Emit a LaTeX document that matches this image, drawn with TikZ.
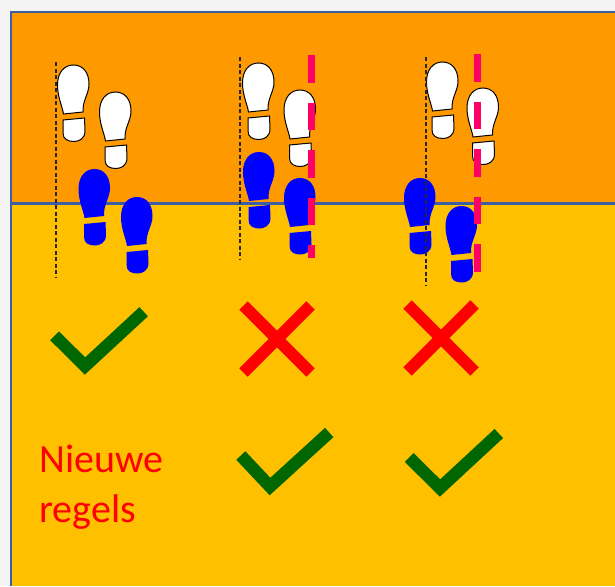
\documentclass[tikz,border=0pt]{standalone}
\usepackage{fontspec}
\setmainfont{Carlito}
\usepackage{tikz}
\usetikzlibrary{positioning}

\definecolor{frameblue}{HTML}{3C5FA3}
\definecolor{topband}{HTML}{FF9900}
\definecolor{lowband}{HTML}{FFC000}
\definecolor{okgreen}{HTML}{006600}
\definecolor{linepink}{HTML}{FF0066}
\definecolor{outside}{HTML}{F4F4F4}

\tikzset{
  print/.pic={
    % sole
    \path[pic actions] (-10,49) .. controls (-11,42) and (-16,32) .. (-16,20)
      .. controls (-16,7) and (-9,0) .. (0,0)
      .. controls (9,0) and (15.5,7) .. (15.5,19)
      .. controls (15.5,29) and (9,35) .. (9.5,47) -- cycle;
    % heel
    \path[pic actions] (-10.5,55) -- (11,53) -- (11.5,66)
      .. controls (11.5,74) and (5,76.5) .. (0.5,76.5)
      .. controls (-6,76.5) and (-10.5,74) .. (-10.5,68) -- cycle;
  },
  white print/.style={draw=black, fill=white, line width=1pt},
  blue print/.style={fill=blue},
  guide/.style={black!85, line width=1.1pt, dash pattern=on 4pt off 2.5pt},
  pinkline/.style={linepink, line width=7pt, dash pattern=on 27.5pt off 20pt},
  tick/.style={okgreen, line width=12.5pt, line join=miter, line cap=butt},
  cross/.style={red, line width=12pt, line cap=butt},
  rule/.style={font=\fontsize{40}{48}\selectfont, text=red, inner sep=0pt, anchor=base west}
}

\begin{document}
\begin{tikzpicture}[x=1pt,y=-1pt]
  \useasboundingbox (0,0) rectangle (615,586);
  \fill[outside] (0,0) rectangle (615,586);
  \fill[topband] (11,12) rectangle (615,203.5);
  \fill[lowband] (11,203.5) rectangle (615,586);
  \draw[frameblue, line width=2.5pt] (615,12) -- (11,12) -- (11,586);
  \draw[frameblue, line width=2.5pt] (11,203.5) -- (615,203.5);

  % footprints
  \foreach \x/\y in {73.5/65, 115.5/92, 258.5/63, 300/90, 442.5/62, 483/88}
    \pic[white print] at (\x,\y) {print};
  \foreach \x/\y in {94.5/169, 137/197, 259/152, 300/178, 420/178, 461.5/206}
    \pic[blue print] at (\x,\y) {print};

  % lines
  \draw[guide] (56,62) -- (56,277);
  \draw[guide] (240,57) -- (240,260);
  \draw[guide] (426,57) -- (426,285);
  \draw[pinkline] (311,55) -- (311,258.3);
  \draw[pinkline] (477,54) -- (477,272);

  % marks
  \draw[tick] (54.6,335.8) -- (85,366) -- (143.7,311.7);
  \draw[cross] (243.5,305.5) -- (310.5,372.5) (310.5,305.5) -- (243.5,372.5);
  \draw[cross] (407.5,304.5) -- (474.5,371.5) (474.5,304.5) -- (407.5,371.5);
  \draw[tick] (240.8,455.5) -- (270,486.5) -- (329.2,432.5);
  \draw[tick] (409.2,457.5) -- (440,488) -- (498.8,433.5);

  \node[rule] (nieuwe) at (39,472) {Nieuwe};
  \node[rule] (regels) at ([yshift=-50pt]nieuwe.base west) {regels};
\end{tikzpicture}
\end{document}
